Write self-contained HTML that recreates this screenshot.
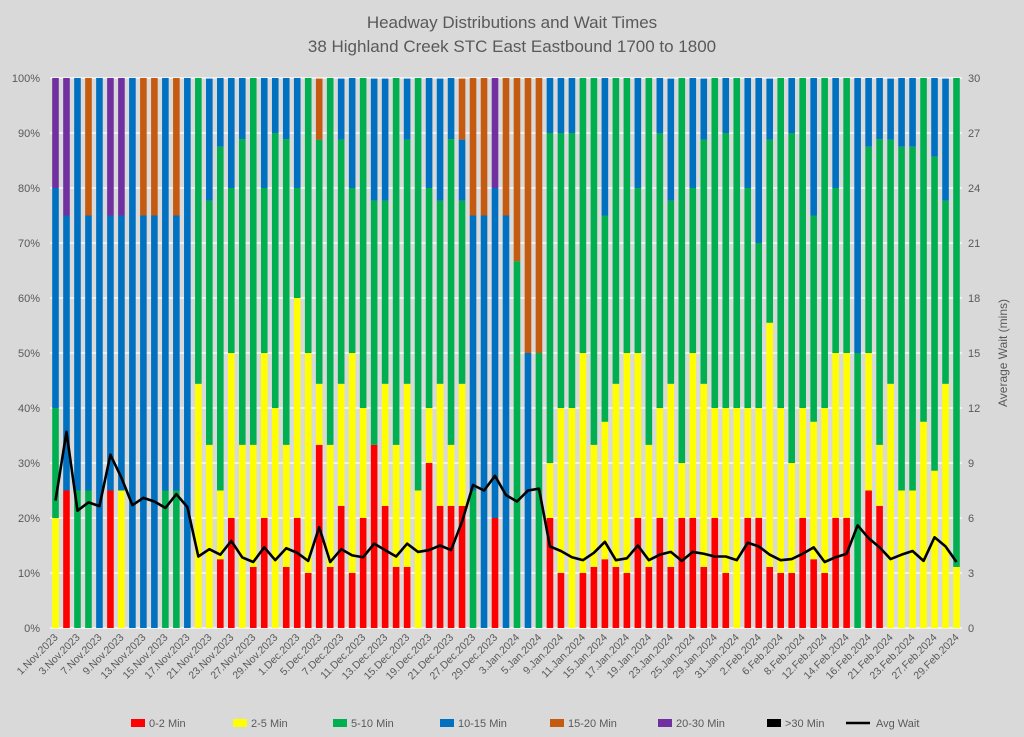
<!DOCTYPE html>
<html><head><meta charset="utf-8"><style>
body{margin:0;background:#d9d9d9;}
svg{display:block;font-family:"Liberation Sans",sans-serif;}
</style></head><body>
<svg id="chart" width="1024" height="737" viewBox="0 0 1024 737" xmlns="http://www.w3.org/2000/svg">
<rect width="1024" height="737" fill="#d9d9d9"/>
<text x="512" y="28" text-anchor="middle" font-size="17" fill="#595959">Headway Distributions and Wait Times</text>
<text x="512" y="52" text-anchor="middle" font-size="17" fill="#595959">38 Highland Creek  STC East Eastbound 1700 to 1800</text>
<g id="grid"></g><g id="bars"></g><g id="line"></g><g id="axes"></g><g id="legend"></g>
</svg>
<script>
const red=[0,25,0,0,0,25,0,0,0,0,0,0,0,0,0,12.5,20,0,11.1,20,0,11.1,20,10,33.3,11.1,22.2,10,20,33.3,22.2,11.1,11.1,0,30,22.2,22.2,22.2,0,0,20,0,0,0,0,20,10,0,10,11.1,12.5,11.1,10,20,11.1,20,11.1,20,20,11.1,20,10,0,20,20,11.1,10,10,20,12.5,10,20,20,0,25,22.2,0,0,0,0,0,0,0];
const yellow=[20,0,0,0,0,0,25,0,0,0,0,0,0,44.4,33.3,12.5,30,33.3,22.2,30,40,22.2,40,40,11.1,22.2,22.2,40,20,0,22.2,22.2,33.3,25,10,22.2,11.1,22.2,0,0,0,0,0,0,0,10,30,40,40,22.2,25,33.3,40,30,22.2,20,33.3,10,30,33.3,20,30,40,20,20,44.4,30,20,20,25,30,30,30,0,25,11.1,44.4,25,25,37.5,28.6,44.4,11.1];
const green=[20,0,25,25,0,0,0,0,0,0,25,25,0,55.6,44.4,62.5,30,55.6,66.7,30,50,55.6,20,50,44.4,66.7,44.4,30,60,44.4,33.3,66.7,44.4,75,40,33.3,55.6,33.3,25,0,0,0,66.7,0,50,60,50,50,50,66.7,37.5,55.6,50,30,66.7,50,33.3,70,30,44.4,60,50,60,40,30,33.3,60,60,60,37.5,60,30,50,50,37.5,55.6,44.4,62.5,62.5,62.5,57.1,33.3,88.9];
const blue=[40,50,75,50,100,50,50,100,75,75,75,50,100,0,22.2,12.5,20,11.1,0,20,10,11.1,20,0,0,0,11.1,20,0,22.2,22.2,0,11.1,0,20,22.2,11.1,11.1,50,75,60,75,0,50,0,10,10,10,0,0,25,0,0,20,0,10,22.2,0,20,11.1,0,10,0,20,30,11.1,0,10,0,25,0,20,0,50,12.5,11.1,11.1,12.5,12.5,0,14.3,22.2,0];
const orange=[0,0,0,25,0,0,0,0,25,25,0,25,0,0,0,0,0,0,0,0,0,0,0,0,11.1,0,0,0,0,0,0,0,0,0,0,0,0,11.1,25,25,0,25,33.3,50,50,0,0,0,0,0,0,0,0,0,0,0,0,0,0,0,0,0,0,0,0,0,0,0,0,0,0,0,0,0,0,0,0,0,0,0,0,0,0];
const purple=[20,25,0,0,0,25,25,0,0,0,0,0,0,0,0,0,0,0,0,0,0,0,0,0,0,0,0,0,0,0,0,0,0,0,0,0,0,0,0,0,20,0,0,0,0,0,0,0,0,0,0,0,0,0,0,0,0,0,0,0,0,0,0,0,0,0,0,0,0,0,0,0,0,0,0,0,0,0,0,0,0,0,0];
const avgWait=[6.95,10.7,6.4,6.85,6.65,9.45,8.2,6.7,7.1,6.9,6.55,7.3,6.6,3.9,4.3,4.0,4.75,3.85,3.6,4.4,3.7,4.35,4.1,3.66,5.5,3.6,4.3,3.96,3.86,4.6,4.25,3.9,4.6,4.15,4.25,4.5,4.25,5.8,7.8,7.5,8.3,7.25,6.9,7.5,7.6,4.45,4.2,3.86,3.7,4.1,4.7,3.7,3.8,4.5,3.7,4.0,4.15,3.66,4.15,4.05,3.9,3.9,3.7,4.65,4.45,4.0,3.7,3.76,4.05,4.4,3.6,3.86,4.05,5.6,4.9,4.4,3.76,4.0,4.2,3.66,4.95,4.45,3.6];
const leftTicks=["0%","10%","20%","30%","40%","50%","60%","70%","80%","90%","100%"];
const rightTicks=[0,3,6,9,12,15,18,21,24,27,30];
const holidays=["2023-12-25","2023-12-26","2024-01-01","2024-02-19"];
const months=["Jan","Feb","Mar","Apr","May","Jun","Jul","Aug","Sep","Oct","Nov","Dec"];
const categories=[];
(function(){let d=new Date(Date.UTC(2023,10,1));const end=new Date(Date.UTC(2024,1,29));
while(d<=end){const w=d.getUTCDay();const iso=d.toISOString().slice(0,10);
if(w!==0&&w!==6&&holidays.indexOf(iso)<0)categories.push(d.getUTCDate()+"."+months[d.getUTCMonth()]+"."+d.getUTCFullYear());
d=new Date(d.getTime()+86400000);}})();
const series=[["0-2 Min",red,"#ff0000"],["2-5 Min",yellow,"#ffff00"],["5-10 Min",green,"#00b050"],["10-15 Min",blue,"#0070c0"],["15-20 Min",orange,"#c55a11"],["20-30 Min",purple,"#7030a0"]];
const NS="http://www.w3.org/2000/svg";
const X0=50,X1=962,Y0=628,Y1=78;
const n=red.length,step=(X1-X0)/n,bw=6.6;
const xc=i=>X0+step*(i+0.5);
const yp=v=>Y0-(Y0-Y1)*v/100;
const yw=v=>Y0-(Y0-Y1)*v/30;
function mk(t,a,p){const e=document.createElementNS(NS,t);for(const k in a)e.setAttribute(k,a[k]);p.appendChild(e);return e;}
const grid=document.getElementById('grid'),axes=document.getElementById('axes');
leftTicks.forEach((t,i)=>{const y=yp(i*10);
const g=mk('line',{x1:X0,x2:X1,y1:y,y2:y,stroke:'#ffffff','stroke-width':1.2},grid);


const tl=mk('text',{x:40,y:y+4,'text-anchor':'end','font-size':11,fill:'#595959'},axes);tl.textContent=t;

});
rightTicks.forEach(v=>{const tr=mk('text',{x:968,y:yw(v)+4,'font-size':11,fill:'#595959'},axes);tr.textContent=v;

});
const rt=mk('text',{transform:'translate(1007,353) rotate(-90)','text-anchor':'middle','font-size':12,fill:'#595959'},axes);rt.textContent='Average Wait (mins)';


const barsG=document.getElementById('bars');
for(let i=0;i<n;i++){let acc=0;series.forEach(s=>{const v=s[1][i];if(v>0){
const r=mk('rect',{x:xc(i)-bw/2,y:yp(acc+v),width:bw,height:yp(acc)-yp(acc+v),fill:s[2]},barsG);

}acc+=v;});}
categories.forEach((c,i)=>{if(i%2)return;
const t=mk('text',{transform:`translate(${xc(i)+3},${638}) rotate(-45)`,'text-anchor':'end','font-size':10.5,fill:'#595959'},axes);t.textContent=c;

});
const pl=mk('polyline',{points:avgWait.map((v,i)=>xc(i)+','+yw(v)).join(' '),fill:'none',stroke:'#000','stroke-width':2.6,'stroke-linejoin':'round'},document.getElementById('line'));


const lg=document.getElementById('legend');
const leg=[["0-2 Min","#ff0000",131],["2-5 Min","#ffff00",233],["5-10 Min","#00b050",333],["10-15 Min","#0070c0",440],["15-20 Min","#c55a11",550],["20-30 Min","#7030a0",658],[">30 Min","#000000",767]];
leg.forEach(l=>{const r=mk('rect',{x:l[2],y:719,width:14,height:8,fill:l[1]},lg);


const t=mk('text',{x:l[2]+18,y:727,'font-size':11,fill:'#595959'},lg);t.textContent=l[0];

});
const ll=mk('line',{x1:846,x2:870,y1:723,y2:723,stroke:'#000','stroke-width':2.5},lg);


const lt=mk('text',{x:876,y:727,'font-size':11,fill:'#595959'},lg);lt.textContent='Avg Wait';


</script>
</body></html>
